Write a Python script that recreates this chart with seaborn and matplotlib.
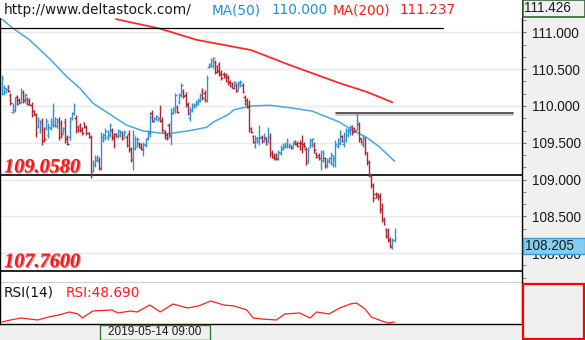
import numpy as np
import matplotlib
matplotlib.use("Agg")
import matplotlib.pyplot as plt
import matplotlib.patheffects as pe
import matplotlib.transforms as mtransforms
from matplotlib.patches import Rectangle
from matplotlib.ticker import MultipleLocator
import seaborn as sns

sns.set_style("white")
plt.rcParams['font.family'] = ['Liberation Sans', 'DejaVu Sans']

# ---- price bars (USD/JPY, hourly) ----
opens = [
    110.18, 110.17, 110.19, 110.27, 110.15, 109.92, 109.95, 110.12, 110.08, 110.06,
    110.19, 110.07, 110.10, 110.08, 110.02, 109.93, 109.88, 109.73, 109.66, 109.80,
    109.67, 109.70, 109.61, 109.70, 109.75, 109.74, 109.73, 109.80, 109.77, 109.65,
    109.78, 109.58, 109.58, 109.83, 109.90, 109.84, 109.72, 109.74, 109.69, 109.77,
    109.72, 109.63, 109.58, 109.12, 109.20, 109.26, 109.27, 109.16, 109.54, 109.57,
    109.58, 109.61, 109.67, 109.58, 109.62, 109.59, 109.60, 109.64, 109.60, 109.58,
    109.62, 109.42, 109.28, 109.43, 109.46, 109.50, 109.48, 109.42, 109.47, 109.56,
    109.63, 109.90, 109.79, 109.82, 109.81, 109.84, 109.81, 109.65, 109.60, 109.74,
    109.58, 109.90, 109.95, 109.99, 110.05, 110.15, 110.21, 110.15, 110.03, 109.84,
    109.94, 109.98, 110.01, 110.03, 110.07, 110.21, 110.17, 110.08, 110.53, 110.55,
    110.55, 110.60, 110.54, 110.57, 110.46, 110.44, 110.42, 110.40, 110.33, 110.31,
    110.25, 110.29, 110.23, 110.28, 110.29, 110.12, 110.08, 109.99, 109.70, 109.59,
    109.46, 109.52, 109.52, 109.58, 109.53, 109.56, 109.52, 109.58, 109.38, 109.34,
    109.33, 109.29, 109.36, 109.42, 109.44, 109.46, 109.45, 109.46, 109.45, 109.52,
    109.50, 109.50, 109.50, 109.49, 109.42, 109.26, 109.45, 109.47, 109.48, 109.36,
    109.34, 109.29, 109.27, 109.29, 109.18, 109.25, 109.24, 109.21, 109.27, 109.46,
    109.50, 109.59, 109.48, 109.55, 109.61, 109.64, 109.71, 109.70, 109.68, 109.76,
    109.56, 109.48, 109.55, 109.37, 109.24, 109.05, 108.92, 108.81, 108.80, 108.78,
    108.60, 108.47, 108.33, 108.30, 108.19, 108.08, 108.18,
]
highs = [
    110.42, 110.29, 110.24, 110.29, 110.18, 110.04, 110.12, 110.15, 110.11, 110.24,
    110.22, 110.18, 110.12, 110.11, 110.05, 109.95, 109.90, 109.85, 109.81, 109.84,
    109.71, 109.84, 109.77, 109.84, 110.04, 109.85, 109.84, 109.85, 109.81, 109.71,
    109.84, 109.61, 109.85, 109.92, 110.04, 109.88, 109.74, 109.77, 109.71, 109.78,
    109.74, 109.65, 109.61, 109.27, 109.33, 109.33, 109.31, 109.65, 109.63, 109.70,
    109.67, 109.77, 109.70, 109.63, 109.63, 109.69, 109.67, 109.66, 109.67, 109.61,
    109.67, 109.44, 109.67, 109.59, 109.58, 109.51, 109.50, 109.51, 109.57, 109.67,
    109.92, 109.95, 109.85, 109.88, 109.85, 110.01, 109.85, 109.67, 109.63, 109.77,
    109.97, 109.99, 110.18, 110.01, 110.18, 110.31, 110.23, 110.19, 110.05, 109.99,
    110.04, 110.04, 110.08, 110.11, 110.18, 110.24, 110.22, 110.42, 110.58, 110.65,
    110.67, 110.63, 110.56, 110.60, 110.49, 110.46, 110.45, 110.42, 110.35, 110.33,
    110.34, 110.31, 110.34, 110.35, 110.31, 110.15, 110.11, 110.08, 109.71, 109.61,
    109.61, 109.58, 109.74, 109.61, 109.63, 109.58, 109.71, 109.63, 109.40, 109.36,
    109.36, 109.40, 109.47, 109.50, 109.51, 109.57, 109.50, 109.47, 109.52, 109.54,
    109.52, 109.54, 109.61, 109.51, 109.44, 109.44, 109.57, 109.57, 109.51, 109.38,
    109.36, 109.40, 109.40, 109.31, 109.29, 109.31, 109.38, 109.33, 109.54, 109.57,
    109.67, 109.61, 109.65, 109.70, 109.70, 109.74, 109.74, 109.71, 109.90, 109.78,
    109.57, 109.61, 109.58, 109.38, 109.27, 109.06, 108.95, 108.83, 108.82, 108.82,
    108.68, 108.49, 108.34, 108.34, 108.22, 108.21, 108.34,
]
lows = [
    110.15, 110.15, 110.18, 110.19, 110.01, 109.90, 109.92, 110.01, 110.03, 110.04,
    110.04, 110.04, 110.01, 110.01, 109.85, 109.88, 109.58, 109.70, 109.63, 109.47,
    109.51, 109.67, 109.57, 109.67, 109.71, 109.71, 109.70, 109.54, 109.57, 109.63,
    109.50, 109.47, 109.54, 109.81, 109.88, 109.63, 109.65, 109.65, 109.61, 109.70,
    109.61, 109.57, 109.02, 109.10, 109.17, 109.24, 109.13, 109.13, 109.51, 109.54,
    109.54, 109.58, 109.54, 109.43, 109.58, 109.57, 109.58, 109.54, 109.58, 109.44,
    109.38, 109.24, 109.13, 109.40, 109.44, 109.43, 109.40, 109.32, 109.44, 109.54,
    109.58, 109.78, 109.78, 109.81, 109.80, 109.78, 109.65, 109.55, 109.54, 109.58,
    109.47, 109.89, 109.90, 109.90, 110.03, 110.12, 110.11, 109.99, 109.88, 109.80,
    109.92, 109.97, 109.99, 110.01, 110.05, 110.08, 110.05, 110.05, 110.52, 110.53,
    110.52, 110.43, 110.45, 110.41, 110.35, 110.38, 110.33, 110.29, 110.26, 110.24,
    110.23, 110.19, 110.22, 110.26, 110.18, 110.01, 109.97, 109.65, 109.63, 109.50,
    109.43, 109.50, 109.47, 109.50, 109.51, 109.47, 109.50, 109.31, 109.29, 109.27,
    109.27, 109.27, 109.33, 109.40, 109.43, 109.43, 109.43, 109.42, 109.44, 109.47,
    109.44, 109.40, 109.36, 109.43, 109.20, 109.23, 109.43, 109.44, 109.36, 109.29,
    109.27, 109.13, 109.24, 109.16, 109.16, 109.23, 109.20, 109.17, 109.17, 109.43,
    109.47, 109.51, 109.44, 109.51, 109.58, 109.61, 109.61, 109.65, 109.67, 109.51,
    109.50, 109.44, 109.33, 109.20, 109.04, 108.89, 108.70, 108.75, 108.72, 108.55,
    108.42, 108.38, 108.21, 108.15, 108.07, 108.06, 108.15,
]
closes = [
    110.38, 110.24, 110.23, 110.21, 110.04, 110.00, 110.08, 110.03, 110.04, 110.19,
    110.08, 110.15, 110.03, 110.02, 109.88, 109.89, 109.63, 109.81, 109.77, 109.52,
    109.55, 109.80, 109.72, 109.80, 109.95, 109.82, 109.80, 109.58, 109.62, 109.70,
    109.55, 109.49, 109.80, 109.90, 110.01, 109.67, 109.67, 109.68, 109.63, 109.72,
    109.63, 109.58, 109.07, 109.23, 109.30, 109.31, 109.16, 109.58, 109.61, 109.66,
    109.64, 109.74, 109.57, 109.47, 109.59, 109.66, 109.65, 109.56, 109.65, 109.47,
    109.42, 109.27, 109.60, 109.55, 109.55, 109.44, 109.42, 109.48, 109.55, 109.65,
    109.85, 109.80, 109.84, 109.86, 109.84, 109.80, 109.67, 109.57, 109.56, 109.60,
    109.90, 109.97, 110.15, 109.92, 110.15, 110.28, 110.13, 110.02, 109.91, 109.95,
    110.01, 110.02, 110.06, 110.08, 110.15, 110.11, 110.08, 110.38, 110.57, 110.63,
    110.65, 110.46, 110.47, 110.43, 110.38, 110.39, 110.34, 110.31, 110.27, 110.25,
    110.32, 110.21, 110.31, 110.33, 110.19, 110.03, 109.99, 109.70, 109.64, 109.51,
    109.57, 109.56, 109.57, 109.52, 109.59, 109.49, 109.58, 109.35, 109.31, 109.30,
    109.28, 109.37, 109.44, 109.47, 109.49, 109.53, 109.48, 109.43, 109.50, 109.48,
    109.46, 109.42, 109.45, 109.45, 109.23, 109.40, 109.54, 109.55, 109.40, 109.31,
    109.29, 109.37, 109.36, 109.20, 109.26, 109.29, 109.34, 109.30, 109.48, 109.55,
    109.63, 109.53, 109.60, 109.66, 109.67, 109.71, 109.65, 109.66, 109.80, 109.55,
    109.51, 109.58, 109.38, 109.24, 109.07, 108.92, 108.75, 108.77, 108.76, 108.58,
    108.45, 108.40, 108.24, 108.18, 108.10, 108.18, 108.21,
]

# moving averages read at selected bar numbers
ma50_bar = [0, 5, 13, 23, 31, 37, 43, 51, 59, 67, 78, 88, 97, 100, 107, 110,
            118, 127, 138, 147, 154, 160, 166, 173, 179, 186]
ma50_val = [111.18, 111.06, 110.90, 110.63, 110.39, 110.24, 110.04, 109.89,
            109.74, 109.66, 109.62, 109.66, 109.71, 109.78, 109.88, 109.95,
            110.00, 110.01, 109.97, 109.93, 109.85, 109.78, 109.67, 109.57,
            109.44, 109.25]
ma200_bar = [54, 75, 92, 118, 136, 160, 173, 185]
ma200_val = [111.18, 111.05, 110.90, 110.76, 110.56, 110.31, 110.19, 110.05]

# RSI(14)
rsi_bar = [0, 4, 9, 17, 22, 27, 32, 36, 38, 43, 52, 55, 61, 64, 70, 75, 81,
           88, 93, 99, 105, 110, 116, 119, 123, 130, 134, 141, 146, 149, 155,
           160, 165, 168, 172, 175, 180, 183, 186]
rsi_val = [48.68, 49.37, 50.05, 49.37, 50.39, 51.07, 52.10, 51.42, 50.05,
           52.44, 52.78, 51.76, 52.44, 52.10, 54.49, 52.10, 54.83, 53.46,
           54.15, 55.85, 54.49, 54.15, 52.78, 50.05, 49.71, 49.37, 51.42,
           51.76, 50.05, 52.10, 51.42, 53.46, 54.83, 55.17, 53.12, 50.39,
           49.02, 48.34, 48.69]

# horizontal levels
top_level = 111.06
resist_level = 109.90
support_1 = 109.058
support_2 = 107.76
price_ticks = [108.0, 108.5, 109.0, 109.5, 110.0, 110.5, 111.0]

header_url = "http://www.deltastock.com/"
ma50_txt, ma50_last = "MA(50)", "110.000"
ma200_txt, ma200_last = "MA(200)", "111.237"
axis_top = "111.426"
last_price = "108.205"
date_label = "2019-05-14 09:00"

UP = '#2f93d3'
DOWN = '#b0262c'
GRAY = '#f0f0f0'

W, H = 585, 340
fig = plt.figure(figsize=(W / 100, H / 100), dpi=100, facecolor=GRAY)
ax = fig.add_axes([0, 57 / H, 522 / W, 283 / H])
ax_rsi = fig.add_axes([0, 16 / H, 522 / W, 41 / H])

idx = np.arange(len(closes))
o, h, l, c = map(np.array, (opens, highs, lows, closes))
col = np.where(c >= o, UP, DOWN)

ax.vlines(idx, l, h, colors=col, lw=1.0, zorder=3)
ax.hlines(o, idx - 0.7, idx, colors=col, lw=1.0, zorder=3)
ax.hlines(c, idx, idx + 0.7, colors=col, lw=1.0, zorder=3)

sns.lineplot(x=ma50_bar, y=ma50_val, ax=ax, color='#46a8e0', lw=1.1, zorder=2)
sns.lineplot(x=ma200_bar, y=ma200_val, ax=ax, color='#ff2a2a', lw=1.3, zorder=2)

ax.set_xlim(-0.95, 246.4)
ax.set_ylim(107.595, 111.44)
ax.set_xticks([])
ax.yaxis.tick_right()
ax.set_yticks(price_ticks)
ax.set_yticklabels([f"{v:.3f}" for v in price_ticks])
ax.yaxis.set_minor_locator(MultipleLocator(0.5 / 3))
ax.tick_params(axis='y', which='both', length=3, color='#777', pad=4,
               labelsize=9.8, labelcolor='#1a1a1a')
ax.grid(axis='y', color='#e8e8e8', lw=1)
ax.set_axisbelow(True)
ax.set_xlabel('')
ax.set_ylabel('')
for s in ['left', 'right', 'bottom']:
    ax.spines[s].set_color('black')
    ax.spines[s].set_linewidth(1)
ax.spines['top'].set_visible(False)

# levels
ax.axhline(top_level, xmin=0, xmax=443 / 522, color='black', lw=0.9, zorder=2)
ax.axhline(support_1, color='black', lw=1.2, zorder=2)
ax.axhline(support_2, color='black', lw=1.2, zorder=2)
ax.axhline(resist_level, xmin=336 / 522, xmax=513 / 522, color='#3c3c3c', lw=1.2,
           zorder=2, path_effects=[pe.SimpleLineShadow(offset=(0, -1.2), shadow_color='#aaa',
                                                       alpha=0.7), pe.Normal()])

blend = mtransforms.blended_transform_factory(ax.transAxes, ax.transData)
red_fx = [pe.SimplePatchShadow(offset=(0.8, -0.8), shadow_rgbFace='#700000', alpha=0.45), pe.Normal()]
for lvl, txt, dy in [(support_1, "109.0580", 3), (support_2, "107.7600", 4)]:
    ax.annotate(txt, xy=(0, lvl), xycoords=blend, xytext=(4, dy), textcoords='offset pixels',
                va='baseline', ha='left', fontsize=14.6, fontweight='bold', fontstyle='italic',
                family='Liberation Serif', color='#ff1414', path_effects=red_fx, zorder=5)

# white header band
ax.add_patch(Rectangle((0, 1 - 18 / 283), 1, 18 / 283, transform=ax.transAxes,
                       facecolor='white', edgecolor='none', zorder=4))

# RSI panel
sns.lineplot(x=rsi_bar, y=rsi_val, ax=ax_rsi, color='#ff2020', lw=0.9)
ax_rsi.set_xlim(-0.95, 246.4)
ax_rsi.set_ylim(48, 62)
ax_rsi.set_xticks([])
ax_rsi.set_yticks([])
ax_rsi.set_xlabel('')
ax_rsi.set_ylabel('')
ax_rsi.spines['top'].set_visible(False)
for s in ['left', 'right', 'bottom']:
    ax_rsi.spines[s].set_color('black')
    ax_rsi.spines[s].set_linewidth(1)

# header texts
hdr_y = 1 - 10 / H
hdr = dict(family='DejaVu Sans', fontsize=9.8, va='center')
fig.text(4 / W, hdr_y, header_url, color='#1a1a1a', **hdr)
fig.text(212 / W, hdr_y, ma50_txt, color='#1e8fd6', **hdr)
fig.text(272 / W, hdr_y, ma50_last, color='#1e8fd6', **hdr)
fig.text(333 / W, hdr_y, ma200_txt, color='#ff1a1a', **hdr)
fig.text(400 / W, hdr_y, ma200_last, color='#ff1a1a', **hdr)

rsi_y = 1 - 293 / H
fig.text(4 / W, rsi_y, "RSI(14)", color='#111', **hdr)
fig.text(66 / W, rsi_y, f"RSI:{rsi_val[-1]:.3f}", color='#ff1a1a', **hdr)

# axis top value box
fig.add_artist(Rectangle((522.5 / W, 1 - 17 / H), 62 / W, 16.5 / H, transform=fig.transFigure,
                         facecolor=GRAY, edgecolor='#2e6b2e', lw=1.2))
fig.text(524 / W, 1 - 8.5 / H, axis_top, fontsize=9.8, color='#1a1a1a', va='center')

# last price box (top edge at the last close)
fig.canvas.draw()
y_last = ax.transData.transform((0, closes[-1]))[1] / H
fig.add_artist(Rectangle((522.5 / W, y_last - 16 / H), 62 / W, 16 / H, transform=fig.transFigure,
                         facecolor='#86cdef', edgecolor='#3a9ad9', lw=1))
fig.text(525 / W, y_last - 8 / H, last_price, fontsize=9.8, color='#1a1a1a', va='center')

# RSI scale box
fig.add_artist(Rectangle((523 / W, 1.5 / H), 61 / W, 54.5 / H, transform=fig.transFigure,
                         facecolor=GRAY, edgecolor='#ff0000', lw=1.6))

# date label
fig.add_artist(Rectangle((100 / W, 0.5 / H), 110 / W, 15 / H, transform=fig.transFigure,
                         facecolor=GRAY, edgecolor='#2e7d32', lw=1))
fig.text(155 / W, 8 / H, date_label, fontsize=8.5, color='#1a1a1a', va='center', ha='center')

fig.savefig("out.png", dpi=100, facecolor=GRAY)
